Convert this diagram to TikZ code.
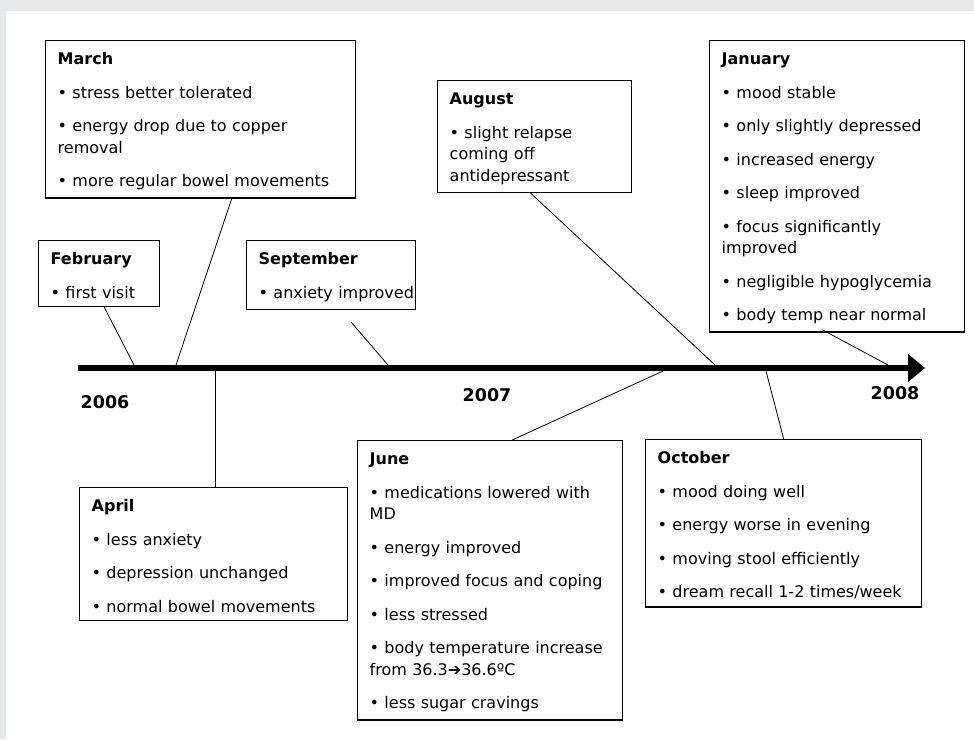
\documentclass[tikz,border=0pt]{standalone}
\usepackage{fontspec}
\setmainfont{DejaVu Sans}
\usetikzlibrary{arrows.meta}
\definecolor{pagegray}{HTML}{E6E7E8}
\newcommand{\evfont}{\fontsize{16}{21.5}\selectfont\hyphenpenalty=10000}
\newcommand{\evtitle}[1]{\rule{0pt}{16pt}\textbf{#1}}
\newcommand{\nitem}{\\[12pt]\textbullet~}

\begin{document}
\begin{tikzpicture}[x=1pt,y=-1pt,
    evbox/.style={draw,line width=1.4pt,anchor=north west,align=left,
      text width=#1,inner xsep=12pt,inner ysep=8pt,font=\evfont},
    year/.style={font=\fontsize{17.5}{20}\selectfont\bfseries},
    tick/.style={line width=0.8pt}]
  \useasboundingbox (0,0) rectangle (974,739);
  \fill[pagegray] (0,0) rectangle (974,739);
  \fill[white] (6,11) rectangle (974,739);

  % the time axis
  \coordinate (t0) at (78,368);
  \coordinate (t1) at (925,368);
  \draw[line width=6pt,-{Triangle[length=17pt,width=27pt]}] (t0) -- (t1);
  \node[year] (y2006) at (105,402) {2006};
  \node[year] (y2007) at (487,395) {2007};
  \node[year] (y2008) at (895,393) {2008};

  % points on the axis
  \coordinate (t-feb) at (134,365);
  \coordinate (t-mar) at (176,365);
  \coordinate (t-apr) at (215,371);
  \coordinate (t-sep) at (388,365);
  \coordinate (t-jun) at (663,371);
  \coordinate (t-aug) at (715,365);
  \coordinate (t-oct) at (766,371);
  \coordinate (t-jan) at (888,365);

  % above the axis
  \node[evbox=97pt] (feb) at (38,240) {\evtitle{February}\nitem first visit};
  \node[evbox=286pt] (mar) at (45,40) {\evtitle{March}
    \nitem stress better tolerated
    \nitem energy drop due to copper\\removal
    \nitem more regular bowel movements};
  \node[evbox=145pt,inner xsep=12pt] (sep) at (246,240) {\evtitle{September}\nitem anxiety~improved};
  \node[evbox=170pt] (aug) at (437,80) {\evtitle{August}
    \nitem slight relapse\\coming off\\antidepressant};
  \node[evbox=231pt] (jan) at (709,40) {\evtitle{January}
    \nitem mood stable
    \nitem only slightly depressed
    \nitem increased energy
    \nitem sleep improved
    \nitem focus significantly\\improved
    \nitem negligible hypoglycemia
    \nitem body temp near normal};

  % below the axis
  \node[evbox=244pt] (apr) at (79,487) {\evtitle{April}
    \nitem less anxiety
    \nitem depression unchanged
    \nitem normal bowel movements};
  \node[evbox=241pt] (jun) at (357,440) {\evtitle{June}
    \nitem medications lowered with\\MD
    \nitem energy improved
    \nitem improved focus and coping
    \nitem less stressed
    \nitem body temperature increase\\from 36.3➔36.6ºC
    \nitem less sugar cravings};
  \node[evbox=252pt] (oct) at (645,439) {\evtitle{October}
    \nitem mood doing well
    \nitem energy worse in evening
    \nitem moving stool efficiently
    \nitem dream recall 1-2 times/week};

  \path[tick]
    ([xshift=5pt]feb.south) edge (t-feb)
    ([xshift=31pt]mar.south) edge (t-mar)
    ([xshift=20pt,yshift=-12pt]sep.south) edge (t-sep)
    ([xshift=-4pt]aug.south) edge (t-aug)
    ([xshift=-15pt,yshift=3pt]jan.south) edge (t-jan)
    (t-apr) edge (t-apr |- apr.north)
    ([xshift=22pt]jun.north) edge (t-jun)
    (oct.north) edge (t-oct);
\end{tikzpicture}
\end{document}
